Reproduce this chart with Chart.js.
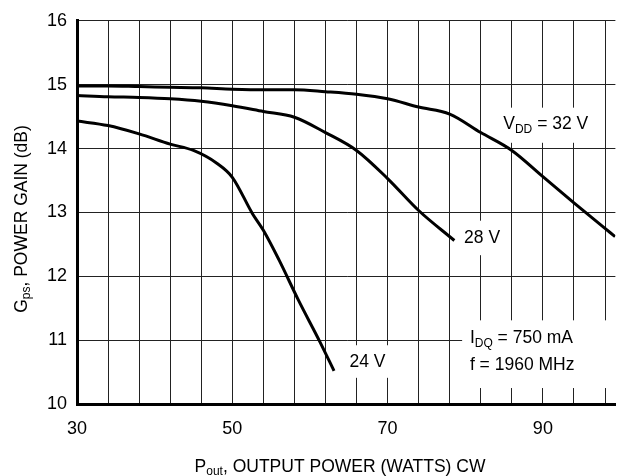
<!DOCTYPE html>
<html>
<head>
<meta charset="utf-8">
<script src="https://cdn.jsdelivr.net/npm/chart.js@4/dist/chart.umd.min.js"></script>
<style>
  body { margin: 0; background: #fff; }
</style>
</head>
<body>
<canvas id="gainChart" width="619" height="476"></canvas>
<script>
// values
const xTicks = [30, 34, 38, 42, 46, 50, 54, 58, 62, 66, 70, 74, 78, 82, 86, 90, 94, 98];
const xLabels = [30, 50, 70, 90];
const yTicks = [10, 11, 12, 13, 14, 15, 16];

const v32X = [30, 34, 38, 42, 46, 50, 54, 58, 62, 66, 70, 74, 78, 82, 86, 90, 94, 98, 99.3];
const v32Y = [14.98, 14.98, 14.97, 14.96, 14.95, 14.93, 14.92, 14.92, 14.89, 14.85, 14.78, 14.65, 14.54, 14.25, 13.97, 13.56, 13.15, 12.75, 12.62];

const v28X = [30, 34, 38, 42, 46, 50, 54, 58, 62, 66, 70, 74, 78.6];
const v28Y = [14.83, 14.81, 14.80, 14.78, 14.74, 14.67, 14.58, 14.49, 14.25, 13.97, 13.53, 13.03, 12.56];

const v24X = [30, 34, 38, 42, 45, 48, 50, 52.6, 54, 56, 58.5, 61.3, 63.1];
const v24Y = [14.43, 14.36, 14.23, 14.07, 13.97, 13.77, 13.55, 12.98, 12.72, 12.26, 11.63, 10.97, 10.52];

const FONT = "'Liberation Sans', Arial, sans-serif";
const mainFont = '17.5px ' + FONT;
const subFont = '12px ' + FONT;

function pts(xs, ys) {
  return xs.map((x, i) => ({ x: x, y: ys[i] }));
}

function curve(xs, ys) {
  return {
    data: pts(xs, ys),
    showLine: true,
    borderColor: '#000',
    borderWidth: 3,
    pointRadius: 0,
    cubicInterpolationMode: 'monotone',
    fill: false
  };
}

// rich text: [text, isSub]
function richWidth(ctx, parts) {
  let w = 0;
  parts.forEach(p => {
    ctx.font = p[1] ? subFont : mainFont;
    w += ctx.measureText(p[0]).width;
  });
  return w;
}

function drawRich(ctx, parts, x, y) {
  let cx = x;
  ctx.textAlign = 'left';
  ctx.textBaseline = 'middle';
  parts.forEach(p => {
    ctx.font = p[1] ? subFont : mainFont;
    ctx.fillText(p[0], cx, p[1] ? y + 5 : y);
    cx += ctx.measureText(p[0]).width;
  });
}

// label boxes (data coords) cut the grid behind the curve labels
const notes = [
  { box: [84.1, 96.6, 14.64, 14.09], at: [84.9, 14.38], lines: [[['V'], ['DD', true], [' = 32 V']]] },
  { box: [79.25, 84.75, 12.87, 12.33], at: [79.85, 12.59], lines: [[['28 V']]] },
  { box: [64.3, 70.7, 10.92, 10.41], at: [65.1, 10.65], lines: [[['24 V']]] },
  { box: [79.6, 100, 11.31, 10.25], at: [80.6, 11.03], lines: [[['I'], ['DQ', true], [' = 750 mA']], [['f = 1960 MHz']]] }
];

const notesPlugin = {
  id: 'notes',
  beforeDatasetsDraw(chart) {
    const ctx = chart.ctx;
    const xs = chart.scales.x, ys = chart.scales.y;
    const area = chart.chartArea;
    ctx.save();
    notes.forEach(n => {
      const x1 = xs.getPixelForValue(n.box[0]);
      const x2 = Math.min(xs.getPixelForValue(n.box[1]), area.right + 1);
      const y1 = ys.getPixelForValue(n.box[2]);
      const y2 = ys.getPixelForValue(n.box[3]);
      ctx.fillStyle = '#fff';
      ctx.fillRect(x1, y1, x2 - x1, y2 - y1);
      ctx.fillStyle = '#000';
      const tx = xs.getPixelForValue(n.at[0]);
      let ty = ys.getPixelForValue(n.at[1]);
      n.lines.forEach(line => {
        drawRich(ctx, line, tx, ty);
        ty += 27;
      });
    });
    ctx.restore();
  },
  afterDraw(chart) {
    const ctx = chart.ctx;
    ctx.save();
    ctx.fillStyle = '#000';
    // x title
    const xt = [['P'], ['out', true], [', OUTPUT POWER (WATTS) CW']];
    drawRich(ctx, xt, 340 - richWidth(ctx, xt) / 2, 467);
    // y title, rotated
    const yt = [['G'], ['ps', true], [', POWER GAIN (dB)']];
    ctx.translate(22, 219);
    ctx.rotate(-Math.PI / 2);
    drawRich(ctx, yt, -richWidth(ctx, yt) / 2, 0);
    ctx.restore();
  }
};

const tickFont = { family: FONT, size: 18 };

new Chart(document.getElementById('gainChart'), {
  type: 'scatter',
  data: {
    datasets: [curve(v32X, v32Y), curve(v28X, v28Y), curve(v24X, v24Y)]
  },
  options: {
    responsive: false,
    animation: false,
    layout: { padding: { top: 20, right: 0, left: 0, bottom: 0 } },
    plugins: { legend: { display: false }, tooltip: { enabled: false } },
    scales: {
      x: {
        type: 'linear',
        min: 30,
        max: 99.34,
        afterBuildTicks: s => { s.ticks = xTicks.map(v => ({ value: v })); },
        afterFit: s => { s.height = 72; },
        grid: { color: '#222', lineWidth: 1, drawTicks: false },
        border: { color: '#000', width: 3 },
        ticks: {
          padding: 14,
          color: '#000',
          font: tickFont,
          maxRotation: 0,
          autoSkip: false,
          callback: v => xLabels.includes(v) ? String(v) : ''
        }
      },
      y: {
        type: 'linear',
        min: 10,
        max: 16,
        afterBuildTicks: s => { s.ticks = yTicks.map(v => ({ value: v })); },
        afterFit: s => { s.width = 77; },
        grid: { color: '#222', lineWidth: 1, drawTicks: false },
        border: { color: '#000', width: 3 },
        ticks: { padding: 10, color: '#000', font: tickFont }
      }
    }
  },
  plugins: [notesPlugin]
});
</script>
</body>
</html>
